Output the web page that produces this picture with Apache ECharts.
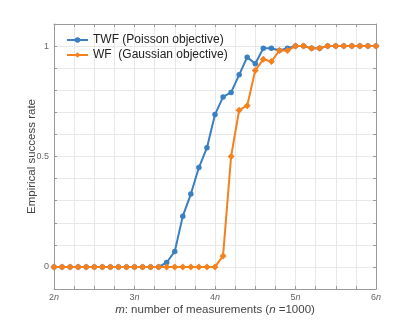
<!DOCTYPE html>
<html>
<head>
<meta charset="utf-8">
<script src="https://cdn.jsdelivr.net/npm/echarts@6/dist/echarts.min.js"></script>
<style>
  html, body { margin: 0; padding: 0; background: #fff; }
  #chart { width: 415px; height: 326px; }
</style>
</head>
<body>
<div id="chart"></div>
<script>
// m / n, measurement ratio
const mValues = [2.0, 2.1, 2.2, 2.3, 2.4, 2.5, 2.6, 2.7, 2.8, 2.9,
                 3.0, 3.1, 3.2, 3.3, 3.4, 3.5, 3.6, 3.7, 3.8, 3.9,
                 4.0, 4.1, 4.2, 4.3, 4.4, 4.5, 4.6, 4.7, 4.8, 4.9,
                 5.0, 5.1, 5.2, 5.3, 5.4, 5.5, 5.6, 5.7, 5.8, 5.9, 6.0]
const twfRate = [0, 0, 0, 0, 0, 0, 0, 0, 0, 0,
                 0, 0, 0, 0, 0.02, 0.07, 0.23, 0.33, 0.45, 0.54,
                 0.69, 0.77, 0.79, 0.87, 0.95, 0.92, 0.99, 0.99, 0.98, 0.99,
                 1, 1, 0.99, 0.99, 1, 1, 1, 1, 1, 1, 1]
const wfRate = [0, 0, 0, 0, 0, 0, 0, 0, 0, 0,
                0, 0, 0, 0, 0, 0, 0, 0, 0, 0,
                0, 0.05, 0.5, 0.71, 0.73, 0.89, 0.94, 0.93, 0.98, 0.98,
                1, 1, 0.99, 0.99, 1, 1, 1, 1, 1, 1, 1]
const xTickLabels = [2, 3, 4, 5, 6]
const yTickLabels = [0, 0.5, 1]

const font = 'Liberation Sans, Arial, sans-serif'
const frameColor = '#9a9a9a'
const gridColor = '#e8e8e8'

const pair = (xs, ys) => xs.map((x, i) => [x, ys[i]])

const frameAxis = {
    axisLine: {show: true, onZero: false, lineStyle: {color: frameColor, width: 1}},
    axisTick: {show: true, inside: true, length: 3, lineStyle: {color: frameColor}},
    splitLine: {show: false},
    axisLabel: {show: false}
}

const myChart = echarts.init(document.getElementById('chart'))
myChart.setOption({
    animation: false,
    textStyle: {fontFamily: font},
    grid: {left: 54, right: 39, top: 24, bottom: 37},
    legend: {
        orient: 'vertical',
        left: 61,
        top: 29,
        itemWidth: 21,
        itemHeight: 7,
        itemGap: 3,
        textStyle: {fontSize: 12, color: '#222', fontFamily: font},
        data: ['TWF (Poisson objective)', 'WF  (Gaussian objective)']
    },
    xAxis: [
        {
            type: 'value', min: 2, max: 6, interval: 0.25,
            name: '{i|m}: number of measurements ({i|n} =1000)',
            nameLocation: 'middle',
            nameGap: 15,
            nameMoveOverlap: false,
            nameTextStyle: {
                fontSize: 11.5, color: '#444',
                rich: {i: {fontStyle: 'italic', fontSize: 11.5, color: '#444'}}
            },
            axisLine: {show: true, onZero: false, lineStyle: {color: frameColor}},
            axisTick: {show: true, inside: true, length: 3, lineStyle: {color: frameColor}},
            splitLine: {show: true, lineStyle: {color: gridColor, width: 1}},
            axisLabel: {
                margin: 4,
                fontSize: 9,
                color: '#666',
                formatter: v => xTickLabels.some(t => Math.abs(t - v) < 1e-6) ? '{v|' + Math.round(v) + '}{i|n}' : '',
                rich: {
                    v: {fontSize: 9, color: '#666'},
                    i: {fontSize: 9, color: '#666', fontStyle: 'italic'}
                }
            }
        },
        Object.assign({type: 'value', position: 'top', min: 2, max: 6, interval: 0.25}, frameAxis)
    ],
    yAxis: [
        {
            type: 'value', min: -0.1, max: 1.1, interval: 0.1,
            name: 'Empirical success rate',
            nameLocation: 'middle',
            nameGap: 16,
            nameMoveOverlap: false,
            nameTextStyle: {fontSize: 11.5, color: '#444'},
            axisLine: {show: true, onZero: false, lineStyle: {color: frameColor}},
            axisTick: {show: true, inside: true, length: 3, lineStyle: {color: frameColor}},
            splitLine: {show: true, lineStyle: {color: gridColor, width: 1}},
            axisLabel: {
                margin: 5,
                fontSize: 9,
                color: '#666',
                formatter: v => {
                    const t = yTickLabels.find(t => Math.abs(t - v) < 1e-6)
                    return t === undefined ? '' : String(t)
                }
            }
        },
        Object.assign({type: 'value', position: 'right', min: -0.1, max: 1.1, interval: 0.1}, frameAxis)
    ],
    series: [
        {
            name: 'TWF (Poisson objective)',
            type: 'line',
            data: pair(mValues, twfRate),
            symbol: 'circle',
            symbolSize: 5.5,
            color: '#3a7fc1',
            lineStyle: {width: 2},
            z: 2
        },
        {
            name: 'WF  (Gaussian objective)',
            type: 'line',
            data: pair(mValues, wfRate),
            symbol: 'diamond',
            symbolSize: 7,
            color: '#f5801f',
            lineStyle: {width: 2},
            z: 3
        }
    ]
})
</script>
</body>
</html>
